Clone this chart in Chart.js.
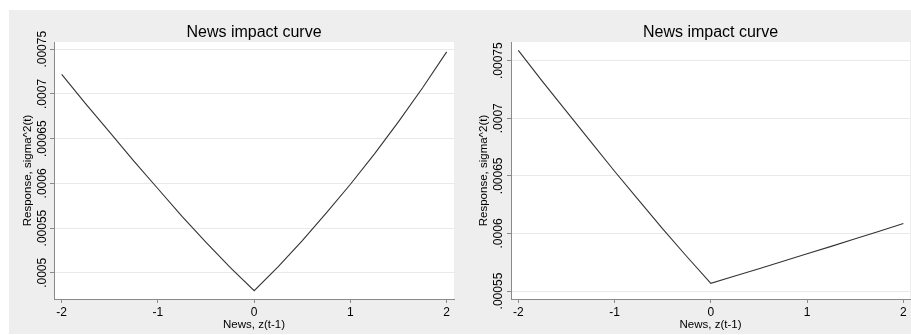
<!DOCTYPE html>
<html>
<head>
<meta charset="utf-8">
<script src="https://cdn.jsdelivr.net/npm/chart.js@4/dist/chart.umd.min.js"></script>
<style>
  body { margin: 0; background: #fff; }
  #bg { position: absolute; left: 9px; top: 10px; width: 902px; height: 324px; background: #eeeeee; }
  #c1 { position: absolute; left: 0; top: 0; }
  #c2 { position: absolute; left: 460px; top: 0; }
</style>
</head>
<body>
<div id="bg"></div>
<canvas id="c1" width="460" height="335"></canvas>
<canvas id="c2" width="451" height="335"></canvas>
<script>
// news value z(t-1)
const newsZ = [-2, -1.75, -1.5, -1.25, -1, -0.75, -0.5, -0.25, 0, 0.25, 0.5, 0.75, 1, 1.25, 1.5, 1.75, 2];
// response sigma^2(t), left and right panels
const leftResponse = [0.000722, 0.000689, 0.000657, 0.000625, 0.000594, 0.000563, 0.000534, 0.000506, 0.000480,
                      0.000507, 0.000536, 0.000567, 0.000599, 0.000633, 0.000669, 0.000707, 0.000747];
const rightResponse = [0.000759, 0.000732, 0.000706, 0.000680, 0.000654, 0.000629, 0.000604, 0.000580, 0.0005567,
                       0.0005630, 0.0005694, 0.0005758, 0.0005823, 0.0005888, 0.0005954, 0.0006020, 0.0006087];

const xTicks = [-2, -1, 0, 1, 2];
const leftYTicks = [0.0005, 0.00055, 0.0006, 0.00065, 0.0007, 0.00075];
const leftYLabels = ['.0005', '.00055', '.0006', '.00065', '.0007', '.00075'];
const rightYTicks = [0.00055, 0.0006, 0.00065, 0.0007, 0.00075];
const rightYLabels = ['.00055', '.0006', '.00065', '.0007', '.00075'];

const FONT = '"Liberation Sans", Arial, sans-serif';
const AXIS = '#8a8a8a';

// white plot region, title and vertical y tick labels
function panelPlugin(title, yTicks, yLabels, gap) {
  return {
    id: 'panel',
    beforeDraw(chart) {
      const { ctx, chartArea: a } = chart;
      ctx.save();
      ctx.fillStyle = '#fff';
      ctx.fillRect(a.left, a.top, a.right - a.left, a.bottom - a.top);
      ctx.restore();
    },
    afterDraw(chart) {
      const { ctx, chartArea: a } = chart;
      const y = chart.scales.y;
      ctx.save();
      ctx.fillStyle = '#000';
      ctx.textAlign = 'center';
      ctx.textBaseline = 'alphabetic';
      ctx.font = '16px ' + FONT;
      ctx.fillText(title, (a.left + a.right) / 2, 36.5);
      ctx.font = '12px ' + FONT;
      yTicks.forEach((v, i) => {
        ctx.save();
        ctx.translate(a.left - gap, y.getPixelForValue(v));
        ctx.rotate(-Math.PI / 2);
        ctx.fillText(yLabels[i], 0, 0);
        ctx.restore();
      });
      ctx.restore();
    }
  };
}

function makeChart(id, values, opt) {
  const pts = newsZ.map((z, i) => ({ x: z, y: values[i] }));
  new Chart(document.getElementById(id), {
    type: 'line',
    data: {
      datasets: [{
        data: pts,
        borderColor: '#333333',
        borderWidth: 1.1,
        pointRadius: 0,
        tension: 0
      }]
    },
    options: {
      responsive: false,
      animation: false,
      devicePixelRatio: 1,
      events: [],
      layout: { padding: { top: 42, right: opt.padRight, left: 0, bottom: 0 } },
      plugins: { legend: { display: false }, tooltip: { enabled: false } },
      scales: {
        x: {
          type: 'linear',
          min: opt.xMin,
          max: opt.xMax,
          afterBuildTicks: s => { s.ticks = xTicks.map(v => ({ value: v })); },
          afterFit: s => { s.height = 36; },
          grid: { drawOnChartArea: false, drawTicks: true, tickLength: 4, tickColor: AXIS },
          border: { color: AXIS, width: 1 },
          ticks: { color: '#000', font: { family: FONT, size: 12 }, padding: 2 },
          title: { display: true, text: 'News, z(t-1)', color: '#000', font: { family: FONT, size: 11.5 }, padding: { top: 0, bottom: 3.6 } }
        },
        y: {
          type: 'linear',
          min: opt.yMin,
          max: opt.yMax,
          afterBuildTicks: s => { s.ticks = opt.yTicks.map(v => ({ value: v })); },
          afterFit: s => { s.width = opt.yWidth; },
          grid: { color: '#e9e9e9', drawTicks: true, tickLength: 4, tickColor: AXIS },
          border: { color: AXIS, width: 1 },
          ticks: { display: false },
          title: { display: true, text: 'Response, sigma^2(t)', color: '#000', font: { family: FONT, size: 11.5 }, padding: { top: opt.yTitlePad, bottom: 0 } }
        }
      }
    },
    plugins: [panelPlugin('News impact curve', opt.yTicks, opt.yLabels, opt.labelGap)]
  });
}

makeChart('c1', leftResponse, {
  xMin: -2.08, xMax: 2.076, yMin: 0.0004707, yMax: 0.0007581,
  yTicks: leftYTicks, yLabels: leftYLabels,
  yWidth: 54, padRight: 6, yTitlePad: 20.8, labelGap: 8.5
});
makeChart('c2', rightResponse, {
  xMin: -2.076, xMax: 2.069, yMin: 0.0005431, yMax: 0.0007662,
  yTicks: rightYTicks, yLabels: rightYLabels,
  yWidth: 51, padRight: 1, yTitlePad: 17.4, labelGap: 9.5
});
</script>
</body>
</html>
